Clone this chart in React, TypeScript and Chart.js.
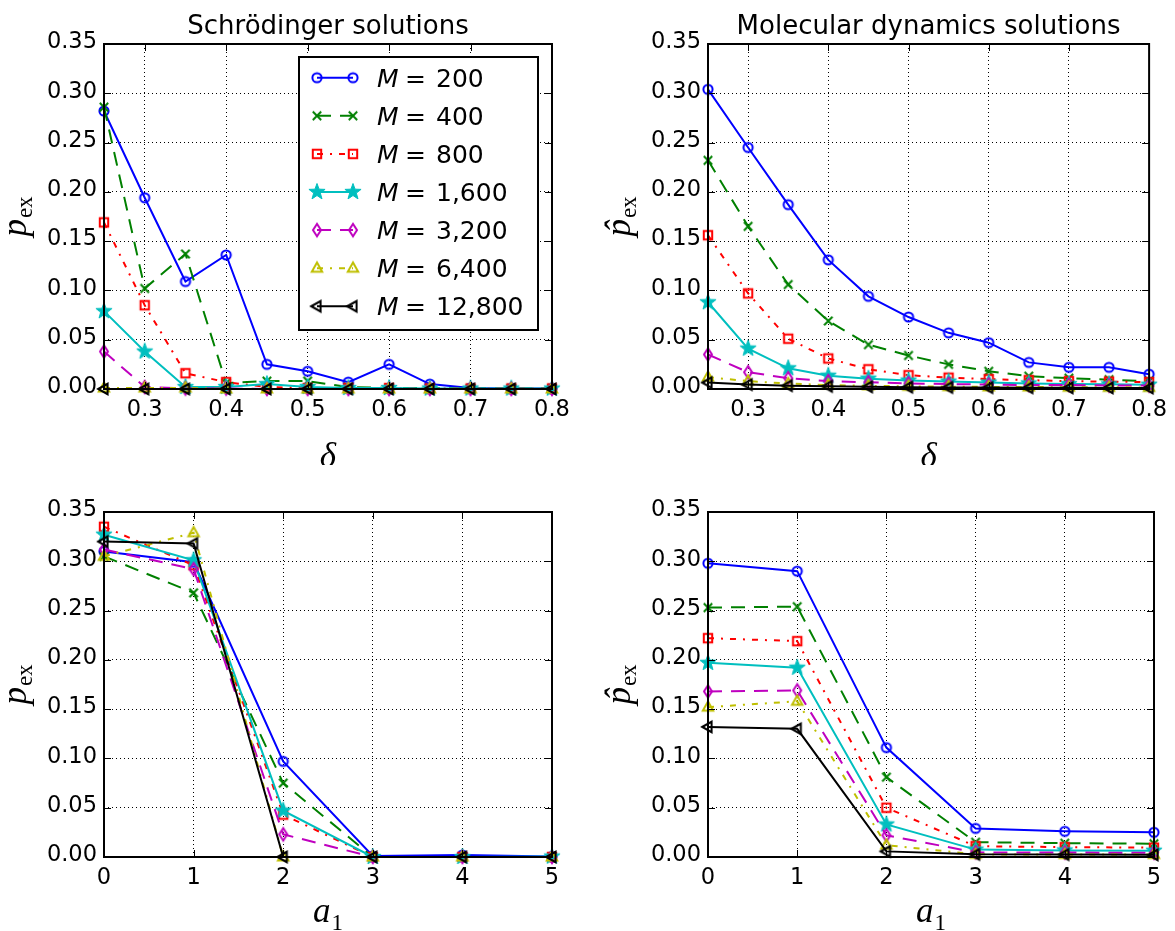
import React, { useEffect, useRef } from "react";
import { Chart, registerables } from "chart.js";
Chart.register(...registerables);

// ---------- data ----------
const deltaGrid = [0.25, 0.3, 0.35, 0.4, 0.45, 0.5, 0.55, 0.6, 0.65, 0.7, 0.75, 0.8];
const a1Grid = [0, 1, 2, 3, 4, 5];
const deltaTickValues = [0.3, 0.4, 0.5, 0.6, 0.7, 0.8];
const a1TickValues = [0, 1, 2, 3, 4, 5];
const probTickValues = [0, 0.05, 0.1, 0.15, 0.2, 0.25, 0.3, 0.35];
const mLabels = ["200", "400", "800", "1,600", "3,200", "6,400", "12,800"];
const panelTitles = ["Schrödinger solutions", "Molecular dynamics solutions"];

// Schrödinger solutions vs delta
const schDeltaM200 = [0.282, 0.194, 0.109, 0.136, 0.025, 0.018, 0.007, 0.025, 0.005, 0.001, 0.0005, 0.0005];
const schDeltaM400 = [0.286, 0.102, 0.137, 0.006, 0.008, 0.008, 0.002, 0.001, 0.001, 0.0005, 0.0005, 0.0005];
const schDeltaM800 = [0.169, 0.085, 0.016, 0.007, 0.002, 0.001, 0.001, 0.001, 0.0005, 0.0005, 0.0005, 0.0005];
const schDeltaM1600 = [0.079, 0.038, 0.002, 0.002, 0.005, 0.002, 0.001, 0.001, 0.0005, 0.0005, 0.0005, 0.0005];
const schDeltaM3200 = [0.038, 0.002, 0.0005, 0.0005, 0, 0, 0, 0, 0, 0, 0, 0];
const schDeltaM6400 = [0.001, 0.001, 0.001, 0, 0, 0, 0, 0, 0, 0, 0, 0];
const schDeltaM12800 = [0, 0, 0, 0, 0, 0, 0, 0, 0, 0, 0, 0];

// Molecular dynamics solutions vs delta
const mdDeltaM200 = [0.304, 0.245, 0.187, 0.131, 0.094, 0.073, 0.057, 0.047, 0.027, 0.022, 0.022, 0.015];
const mdDeltaM400 = [0.232, 0.165, 0.106, 0.069, 0.045, 0.034, 0.025, 0.018, 0.013, 0.011, 0.0095, 0.008];
const mdDeltaM800 = [0.156, 0.097, 0.051, 0.031, 0.02, 0.014, 0.0115, 0.01, 0.009, 0.008, 0.0075, 0.007];
const mdDeltaM1600 = [0.088, 0.041, 0.021, 0.0135, 0.0105, 0.0085, 0.0075, 0.0065, 0.0057, 0.005, 0.0047, 0.0044];
const mdDeltaM3200 = [0.035, 0.017, 0.011, 0.008, 0.0068, 0.0057, 0.005, 0.0045, 0.004, 0.004, 0.0035, 0.0035];
const mdDeltaM6400 = [0.012, 0.008, 0.0055, 0.004, 0.0032, 0.0027, 0.0024, 0.0021, 0.002, 0.0018, 0.0017, 0.0016];
const mdDeltaM12800 = [0.0065, 0.0045, 0.0034, 0.0027, 0.0022, 0.0019, 0.0016, 0.0014, 0.0013, 0.0012, 0.0011, 0.001];

// Schrödinger solutions vs a1
const schA1M200 = [0.31, 0.299, 0.097, 0.001, 0.002, 0.0005];
const schA1M400 = [0.305, 0.268, 0.075, 0, 0, 0];
const schA1M800 = [0.335, 0.296, 0.043, 0, 0, 0];
const schA1M1600 = [0.327, 0.301, 0.047, 0, 0, 0.0005];
const schA1M3200 = [0.312, 0.292, 0.023, 0, 0, 0];
const schA1M6400 = [0.305, 0.329, 0, 0, 0, 0];
const schA1M12800 = [0.32, 0.318, 0, 0, 0, 0];

// Molecular dynamics solutions vs a1
const mdA1M200 = [0.298, 0.29, 0.111, 0.029, 0.026, 0.025];
const mdA1M400 = [0.253, 0.254, 0.081, 0.015, 0.014, 0.0135];
const mdA1M800 = [0.222, 0.219, 0.05, 0.011, 0.01, 0.0095];
const mdA1M1600 = [0.197, 0.192, 0.033, 0.0075, 0.0067, 0.0064];
const mdA1M3200 = [0.168, 0.169, 0.022, 0.0047, 0.0045, 0.0043];
const mdA1M6400 = [0.152, 0.158, 0.012, 0.0027, 0.0025, 0.0025];
const mdA1M12800 = [0.132, 0.13, 0.0057, 0.0027, 0.0025, 0.0022];

// ---------- styles ----------
const seriesStyles = [
  { color: "#0000ff", dash: [] as number[], marker: "circle" },
  { color: "#008000", dash: [14, 9], marker: "x" },
  { color: "#ff0000", dash: [6, 7, 2, 7], marker: "square" },
  { color: "#00bfbf", dash: [] as number[], marker: "star" },
  { color: "#bf00bf", dash: [14, 9], marker: "thinDiamond" },
  { color: "#bfbf00", dash: [6, 7, 2, 7], marker: "triangleUp" },
  { color: "#000000", dash: [] as number[], marker: "triangleLeft" },
];

function makeMarker(kind: string, color: string): HTMLCanvasElement {
  const s = 24;
  const c = document.createElement("canvas");
  c.width = s;
  c.height = s;
  const g = c.getContext("2d")!;
  g.translate(s / 2, s / 2);
  g.lineWidth = 2;
  g.strokeStyle = color;
  g.lineJoin = "miter";
  g.beginPath();
  if (kind === "circle") {
    g.arc(0, 0, 4.6, 0, Math.PI * 2);
    g.stroke();
  } else if (kind === "x") {
    g.moveTo(-4.2, -4.2);
    g.lineTo(4.2, 4.2);
    g.moveTo(-4.2, 4.2);
    g.lineTo(4.2, -4.2);
    g.stroke();
  } else if (kind === "square") {
    g.rect(-4.2, -4.2, 8.4, 8.4);
    g.stroke();
  } else if (kind === "star") {
    for (let i = 0; i < 10; i++) {
      const r = i % 2 === 0 ? 8.5 : 3.5;
      const ang = -Math.PI / 2 + (i * Math.PI) / 5;
      const px = r * Math.cos(ang);
      const py = r * Math.sin(ang);
      if (i === 0) g.moveTo(px, py);
      else g.lineTo(px, py);
    }
    g.closePath();
    g.fillStyle = color;
    g.lineWidth = 1;
    g.fill();
    g.stroke();
  } else if (kind === "thinDiamond") {
    g.moveTo(0, -6.2);
    g.lineTo(4, 0);
    g.lineTo(0, 6.2);
    g.lineTo(-4, 0);
    g.closePath();
    g.stroke();
  } else if (kind === "triangleUp") {
    g.moveTo(0, -5.8);
    g.lineTo(5.2, 3.6);
    g.lineTo(-5.2, 3.6);
    g.closePath();
    g.stroke();
  } else if (kind === "triangleLeft") {
    g.moveTo(-5.8, 0);
    g.lineTo(3.6, -5.2);
    g.lineTo(3.6, 5.2);
    g.closePath();
    g.stroke();
  }
  return c;
}

type PanelDef = {
  key: string;
  left: number;
  top: number;
  w: number;
  h: number;
  padTop: number;
  padRight: number;
  yAxisW: number;
  xAxisH: number;
  xs: number[];
  xMin: number;
  xMax: number;
  xTicks: number[];
  xDecimals: number;
  series: number[][];
  title: string | null;
  xLabel: "delta" | "a1";
  hat: boolean;
  yLabelX: number;
  xLabelBaseline: number;
  legend: boolean;
};

const panels: PanelDef[] = [
  {
    key: "tl", left: 0, top: 0, w: 587, h: 465, padTop: 44, padRight: 35, yAxisW: 104, xAxisH: 76,
    xs: deltaGrid, xMin: 0.25, xMax: 0.8, xTicks: deltaTickValues, xDecimals: 1,
    series: [schDeltaM200, schDeltaM400, schDeltaM800, schDeltaM1600, schDeltaM3200, schDeltaM6400, schDeltaM12800],
    title: panelTitles[0], xLabel: "delta", hat: false, yLabelX: 25.5, xLabelBaseline: 467, legend: true,
  },
  {
    key: "tr", left: 587, top: 0, w: 588, h: 465, padTop: 44, padRight: 21, yAxisW: 121, xAxisH: 76,
    xs: deltaGrid, xMin: 0.25, xMax: 0.8, xTicks: deltaTickValues, xDecimals: 1,
    series: [mdDeltaM200, mdDeltaM400, mdDeltaM800, mdDeltaM1600, mdDeltaM3200, mdDeltaM6400, mdDeltaM12800],
    title: panelTitles[1], xLabel: "delta", hat: true, yLabelX: 42.5, xLabelBaseline: 467, legend: false,
  },
  {
    key: "bl", left: 0, top: 465, w: 587, h: 466, padTop: 47, padRight: 35, yAxisW: 104, xAxisH: 74,
    xs: a1Grid, xMin: 0, xMax: 5, xTicks: a1TickValues, xDecimals: 0,
    series: [schA1M200, schA1M400, schA1M800, schA1M1600, schA1M3200, schA1M6400, schA1M12800],
    title: null, xLabel: "a1", hat: false, yLabelX: 25.5, xLabelBaseline: 457, legend: false,
  },
  {
    key: "br", left: 587, top: 465, w: 588, h: 466, padTop: 47, padRight: 21, yAxisW: 121, xAxisH: 74,
    xs: a1Grid, xMin: 0, xMax: 5, xTicks: a1TickValues, xDecimals: 0,
    series: [mdA1M200, mdA1M400, mdA1M800, mdA1M1600, mdA1M3200, mdA1M6400, mdA1M12800],
    title: null, xLabel: "a1", hat: true, yLabelX: 42.5, xLabelBaseline: 457, legend: false,
  },
];

const SANS = '"DejaVu Sans"';
const SERIF = '"Liberation Serif"';

function decorPlugin(panel: PanelDef, markers: HTMLCanvasElement[]) {
  return {
    id: "decor_" + panel.key,
    afterDraw(chart: any) {
      const { ctx, chartArea: a, scales } = chart;
      ctx.save();
      ctx.setLineDash([]);
      ctx.strokeStyle = "#000";
      ctx.fillStyle = "#000";
      // inner ticks on all sides
      ctx.lineWidth = 1;
      ctx.beginPath();
      for (const v of panel.xTicks) {
        const px = Math.round(scales.x.getPixelForValue(v)) + 0.5;
        ctx.moveTo(px, a.bottom);
        ctx.lineTo(px, a.bottom - 7);
        ctx.moveTo(px, a.top);
        ctx.lineTo(px, a.top + 7);
      }
      for (const v of probTickValues) {
        const py = Math.round(scales.y.getPixelForValue(v)) + 0.5;
        ctx.moveTo(a.left, py);
        ctx.lineTo(a.left + 7, py);
        ctx.moveTo(a.right, py);
        ctx.lineTo(a.right - 7, py);
      }
      ctx.stroke();
      // frame
      ctx.lineWidth = 2;
      ctx.strokeRect(a.left, a.top, a.right - a.left, a.bottom - a.top);

      const cx = (a.left + a.right) / 2;
      const cy = (a.top + a.bottom) / 2;
      // title
      if (panel.title) {
        ctx.font = `26px ${SANS}`;
        ctx.textAlign = "center";
        ctx.textBaseline = "alphabetic";
        ctx.fillText(panel.title, cx, 34);
      }
      // x label
      ctx.textAlign = "left";
      ctx.textBaseline = "alphabetic";
      if (panel.xLabel === "delta") {
        ctx.font = `italic 35px ${SERIF}`;
        const w = ctx.measureText("δ").width;
        ctx.fillText("δ", cx - w / 2, panel.xLabelBaseline);
      } else {
        ctx.font = `italic 35px ${SERIF}`;
        const wa = ctx.measureText("a").width;
        ctx.font = `23px ${SERIF}`;
        const w1 = ctx.measureText("1").width;
        const sx = cx - (wa + w1 + 1) / 2;
        ctx.font = `italic 35px ${SERIF}`;
        ctx.fillText("a", sx, panel.xLabelBaseline);
        ctx.font = `23px ${SERIF}`;
        ctx.fillText("1", sx + wa + 1, panel.xLabelBaseline + 8);
      }
      // y label (rotated)
      ctx.save();
      ctx.translate(panel.yLabelX, cy);
      ctx.rotate(-Math.PI / 2);
      ctx.font = `italic 35px ${SERIF}`;
      const wp = ctx.measureText("p").width;
      ctx.font = `23px ${SERIF}`;
      const wex = ctx.measureText("ex").width;
      const sx = -(wp + wex + 1) / 2;
      ctx.font = `italic 35px ${SERIF}`;
      ctx.fillText("p", sx, 0);
      if (panel.hat) {
        ctx.textAlign = "center";
        ctx.fillText("ˆ", sx + wp / 2 + 1, 0);
        ctx.textAlign = "left";
      }
      ctx.font = `23px ${SERIF}`;
      ctx.fillText("ex", sx + wp + 1, 6);
      ctx.restore();

      // legend
      if (panel.legend) {
        const bx = 299, by = 57, bw = 239, bh = 273;
        ctx.fillStyle = "#fff";
        ctx.fillRect(bx, by, bw, bh);
        ctx.lineWidth = 2;
        ctx.strokeStyle = "#000";
        ctx.strokeRect(bx, by, bw, bh);
        for (let i = 0; i < mLabels.length; i++) {
          const ry = 77.7 + i * 38.1;
          const st = seriesStyles[i];
          ctx.save();
          ctx.strokeStyle = st.color;
          ctx.lineWidth = 2;
          ctx.setLineDash(st.dash);
          ctx.beginPath();
          ctx.moveTo(317, ry);
          ctx.lineTo(353, ry);
          ctx.stroke();
          ctx.restore();
          const m = markers[i];
          ctx.drawImage(m, 317 - m.width / 2, ry - m.height / 2);
          ctx.drawImage(m, 353 - m.width / 2, ry - m.height / 2);
          ctx.fillStyle = "#000";
          ctx.textAlign = "left";
          ctx.textBaseline = "alphabetic";
          ctx.font = `italic 25px ${SANS}`;
          ctx.fillText("M", 377, ry + 9.1);
          ctx.font = `25px ${SANS}`;
          ctx.fillText("=", 405, ry + 9.1);
          ctx.fillText(mLabels[i], 436, ry + 9.1);
        }
      }
      ctx.restore();
    },
  };
}

function buildConfig(panel: PanelDef, markers: HTMLCanvasElement[]): any {
  return {
    type: "line",
    data: {
      datasets: panel.series.map((vals, i) => ({
        label: "M = " + mLabels[i],
        data: panel.xs.map((x, j) => ({ x, y: vals[j] })),
        borderColor: seriesStyles[i].color,
        backgroundColor: seriesStyles[i].color,
        borderWidth: 2,
        borderDash: seriesStyles[i].dash,
        pointStyle: markers[i],
        pointRadius: 5,
        pointHoverRadius: 5,
        fill: false,
        tension: 0,
        clip: false,
        order: -i,
      })),
    },
    options: {
      animation: false,
      responsive: false,
      events: [],
      layout: { padding: { left: 0, top: panel.padTop, right: panel.padRight, bottom: 0 } },
      plugins: { legend: { display: false }, tooltip: { enabled: false }, title: { display: false } },
      scales: {
        x: {
          type: "linear",
          min: panel.xMin,
          max: panel.xMax,
          afterBuildTicks: (s: any) => {
            s.ticks = panel.xTicks.map((v) => ({ value: v }));
          },
          afterFit: (s: any) => {
            s.height = panel.xAxisH;
          },
          grid: { color: "#000", lineWidth: 1, drawTicks: false },
          border: { display: false, dash: [1, 3] },
          ticks: {
            font: { family: "DejaVu Sans", size: 22.5 },
            color: "#000",
            padding: 8,
            maxRotation: 0,
            minRotation: 0,
            autoSkip: false,
            callback: (v: any) => Number(v).toFixed(panel.xDecimals),
          },
        },
        y: {
          type: "linear",
          min: 0,
          max: 0.35,
          afterBuildTicks: (s: any) => {
            s.ticks = probTickValues.map((v) => ({ value: v }));
          },
          afterFit: (s: any) => {
            s.width = panel.yAxisW;
          },
          grid: { color: "#000", lineWidth: 1, drawTicks: false },
          border: { display: false, dash: [1, 3] },
          ticks: {
            font: { family: "DejaVu Sans", size: 22.5 },
            color: "#000",
            padding: 7,
            labelOffset: -1.5,
            autoSkip: false,
            callback: (v: any) => Number(v).toFixed(2),
          },
        },
      },
    },
    plugins: [decorPlugin(panel, markers)],
  };
}

function PanelChart({ panel }: { panel: PanelDef }) {
  const ref = useRef<HTMLCanvasElement>(null);
  useEffect(() => {
    const markers = seriesStyles.map((s) => makeMarker(s.marker, s.color));
    const chart = new Chart(ref.current!, buildConfig(panel, markers));
    return () => chart.destroy();
  }, [panel]);
  return (
    <canvas
      ref={ref}
      width={panel.w}
      height={panel.h}
      style={{ position: "absolute", left: panel.left, top: panel.top, width: panel.w, height: panel.h }}
    />
  );
}

export default function App() {
  return (
    <div style={{ position: "absolute", left: 0, top: 0, width: 1175, height: 931, background: "#fff" }}>
      {panels.map((p) => (
        <PanelChart key={p.key} panel={p} />
      ))}
    </div>
  );
}
